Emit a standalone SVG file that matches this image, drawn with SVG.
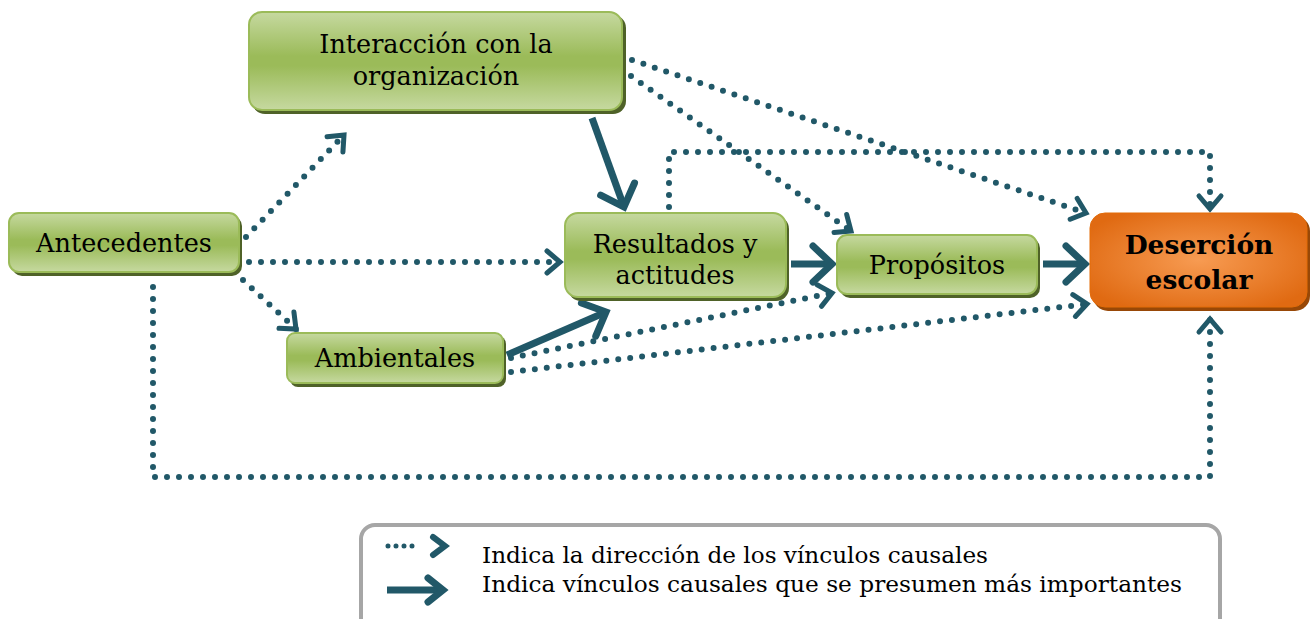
<svg xmlns="http://www.w3.org/2000/svg" width="1313" height="619" viewBox="0 0 1313 619">
<style>
.t{font-family:"DejaVu Serif","Liberation Serif",serif;font-size:25.5px;fill:#000;text-anchor:middle}
.tb{font-family:"DejaVu Serif","Liberation Serif",serif;font-size:26.5px;font-weight:bold;fill:#000;text-anchor:middle}
.lg{font-family:"DejaVu Serif","Liberation Serif",serif;font-size:22px;fill:#000}
.g{fill:url(#gg);stroke:#9bbb59;stroke-width:2}
.gs{fill:#4f6228}
.os{fill:#984807}
.dot{fill:none;stroke:#215868;stroke-width:6;stroke-dasharray:0 12;stroke-linecap:round;stroke-linejoin:round;marker-end:url(#hd)}
.sol{fill:none;stroke:#215868;stroke-width:7;marker-end:url(#hs)}
</style>
<defs>
<linearGradient id="gg" x1="0" y1="0" x2="0" y2="1">
<stop offset="0" stop-color="#c6d9a0"/>
<stop offset="0.45" stop-color="#9bbb59"/>
<stop offset="0.55" stop-color="#9bbb59"/>
<stop offset="1" stop-color="#c6d9a0"/>
</linearGradient>
<radialGradient id="og" cx="0.5" cy="0.5" r="0.6">
<stop offset="0" stop-color="#f79b52"/>
<stop offset="1" stop-color="#e06a12"/>
</radialGradient>
<marker id="hd" markerUnits="userSpaceOnUse" viewBox="-20 -15 30 30" markerWidth="30" markerHeight="30" refX="0" refY="0" orient="auto" overflow="visible">
<path d="M-13,-11 L0,0 L-13,11" fill="none" stroke="#215868" stroke-width="5" stroke-linecap="round"/>
</marker>
<marker id="hs" markerUnits="userSpaceOnUse" viewBox="-25 -25 50 50" markerWidth="50" markerHeight="50" refX="0" refY="0" orient="auto" overflow="visible">
<path d="M-19,-18 L0,0 L-19,18" fill="none" stroke="#215868" stroke-width="7" stroke-linecap="round"/>
</marker>
</defs>
<g id="connectors">
<path class="dot" d="M246,237 L344,135"/>
<path class="dot" d="M249,262 L560,262"/>
<path class="dot" d="M243,280 L296,329"/>
<path class="dot" d="M153,287 L153,477 L1210,477 L1210,319"/>
<path class="dot" d="M631,76 L851,231"/>
<path class="dot" d="M632,60 L1086,213"/>
<path class="dot" d="M669,207 L669,152 L1210,152 L1210,209"/>
<path class="dot" d="M511,358 L832,293"/>
<path class="dot" d="M511,372 L1087,304"/>
<path class="sol" d="M592,118 L624,207"/>
<path class="sol" d="M507,355 L606,312"/>
<path class="sol" d="M791,264 L832,264"/>
<path class="sol" d="M1043,264 L1085,264"/>
</g>
<g id="interaccion">
<rect class="gs" x="252" y="15" width="374" height="99" rx="13"/>
<rect class="g" x="249" y="12" width="373" height="98" rx="13"/>
<text class="t" x="436" y="53">Interacción con la</text>
<text class="t" x="436" y="85">organización</text>
</g>
<g id="antecedentes">
<rect class="gs" x="12" y="216" width="230" height="60" rx="10"/>
<rect class="g" x="9" y="213" width="230" height="59" rx="10"/>
<text class="t" x="124" y="252">Antecedentes</text>
</g>
<g id="resultados">
<rect class="gs" x="568" y="216" width="221" height="85" rx="13"/>
<rect class="g" x="565" y="213" width="221" height="84" rx="13"/>
<text class="t" x="675" y="253">Resultados y</text>
<text class="t" x="675" y="284">actitudes</text>
</g>
<g id="propositos">
<rect class="gs" x="840" y="238" width="200" height="60" rx="10"/>
<rect class="g" x="837" y="235" width="200" height="59" rx="10"/>
<text class="t" x="937" y="274">Propósitos</text>
</g>
<g id="ambientales">
<rect class="gs" x="290" y="336" width="216" height="51" rx="8"/>
<rect class="g" x="287" y="333" width="216" height="50" rx="8"/>
<text class="t" x="395" y="367">Ambientales</text>
</g>
<g id="desercion">
<rect class="os" x="1093" y="216" width="217" height="95" rx="15"/>
<rect x="1090" y="213" width="217" height="94" rx="15" fill="url(#og)" stroke="#e36c09" stroke-width="1"/>
<text class="tb" x="1199" y="254">Deserción</text>
<text class="tb" x="1199" y="289">escolar</text>
</g>
<g id="legend">
<rect x="361" y="525" width="859" height="110" rx="14" fill="#fff" stroke="#a6a6a6" stroke-width="4"/>
<path d="M388,546 L420,546" fill="none" stroke="#215868" stroke-width="5" stroke-dasharray="0 8" stroke-linecap="round"/>
<path d="M433,537 L445,546 L433,555" fill="none" stroke="#215868" stroke-width="6" stroke-linecap="round"/>
<path d="M387,590 L440,590" fill="none" stroke="#215868" stroke-width="7"/>
<path d="M428,578 L443,590 L428,602" fill="none" stroke="#215868" stroke-width="7" stroke-linecap="round"/>
<text class="lg" x="482" y="563" textLength="506" lengthAdjust="spacingAndGlyphs">Indica la dirección de los vínculos causales</text>
<text class="lg" x="482" y="592" textLength="700" lengthAdjust="spacingAndGlyphs">Indica vínculos causales que se presumen más importantes</text>
</g>
</svg>
